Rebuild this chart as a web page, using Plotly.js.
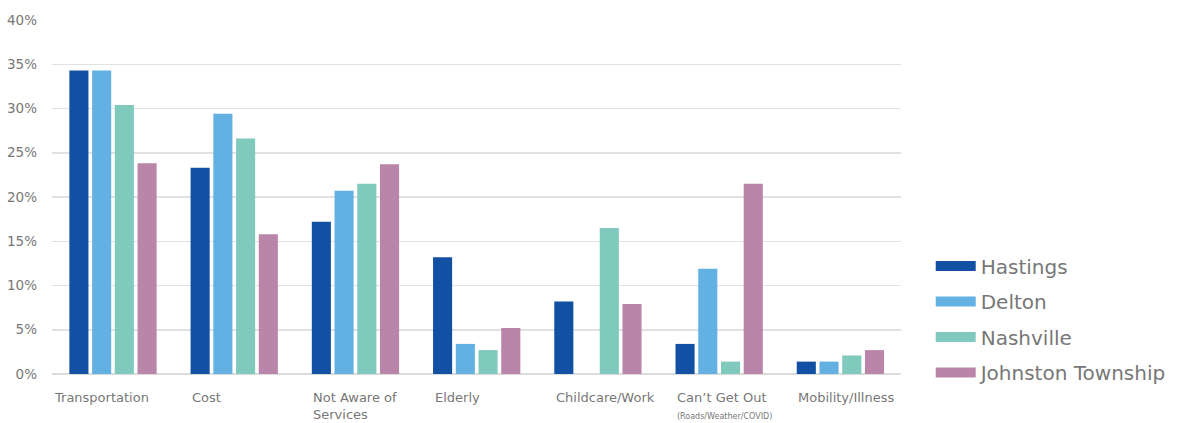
<!DOCTYPE html>
<html>
<head>
<meta charset="utf-8">
<script src="https://cdn.plot.ly/plotly-3.0.1.min.js"></script>
<style>html,body{margin:0;padding:0;background:#fff}#chart{width:1191px;height:423px}</style>
</head>
<body>
<div id="chart"></div>
<script>
const categories = ["Transportation", "Cost", "Not Aware of Services", "Elderly", "Childcare/Work", "Can\u2019t Get Out", "Mobility/Illness"];
const categoryLabels = ["Transportation", "Cost", "Not Aware of<br>Services", "Elderly", "Childcare/Work", "Can\u2019t Get Out<br><span style='font-size:8px'>(Roads/Weather/COVID)</span>", "Mobility/Illness"];
const seriesNames = ["Hastings", "Delton", "Nashville", "Johnston Township"];
const hastings = [34.3, 23.3, 17.2, 13.2, 8.2, 3.4, 1.4];
const delton = [34.3, 29.4, 20.7, 3.4, 0, 11.9, 1.4];
const nashville = [30.4, 26.6, 21.5, 2.7, 16.5, 1.4, 2.1];
const johnston = [23.8, 15.8, 23.7, 5.2, 7.9, 21.5, 2.7];
const yTickVals = [0, 5, 10, 15, 20, 25, 30, 35, 40];
const yTickText = ["0%", "5%", "10%", "15%", "20%", "25%", "30%", "35%", "40%"];

const colors = ["#1150a3", "#63b0e2", "#80c9bd", "#b985a8"];
const seriesValues = [hastings, delton, nashville, johnston];
const gray = "#777777";
const fontFam = "'DejaVu Sans', 'Open Sans', sans-serif";

const traces = [];
seriesValues.forEach((vals, i) => {
  traces.push({
    type: "bar", x: categories, y: vals, name: seriesNames[i],
    marker: {color: colors[i]}, showlegend: false, hoverinfo: "x+y+name"
  });
});
seriesValues.forEach((vals, i) => {
  traces.push({
    type: "scatter", mode: "lines", x: [null], y: [null], name: seriesNames[i],
    line: {color: colors[i], width: 11}, legendgroup: "g" + i, showlegend: true, hoverinfo: "skip"
  });
});

const annotations = categories.map((c, i) => ({
  x: c, xref: "x", y: 0, yref: "paper", yanchor: "top", xanchor: "left",
  xshift: i === 0 ? -61 : -44, yshift: -14, align: "left",
  text: categoryLabels[i], showarrow: false,
  font: {family: fontFam, size: 13, color: gray}
}));

const layout = {
  width: 1191, height: 423,
  margin: {l: 52, r: 290, t: 20, b: 49},
  paper_bgcolor: "#fff", plot_bgcolor: "#fff",
  barmode: "group", bargap: 0.25, bargroupgap: 0.16,
  font: {family: fontFam, color: gray},
  xaxis: {type: "category", showticklabels: false, showgrid: false, zeroline: false, showline: false, ticks: "", fixedrange: true},
  yaxis: {
    range: [0, 40], tickvals: yTickVals, ticktext: yTickText,
    showgrid: true, gridcolor: "#e1e1e1", gridwidth: 1.5, zeroline: true, zerolinecolor: "#dcdcdc", zerolinewidth: 2,
    showline: false, ticks: "", ticklabelstandoff: 14,
    tickfont: {family: fontFam, size: 13.5, color: gray}, fixedrange: true
  },
  legend: {
    x: 1.035, xanchor: "left", y: 0.36, yanchor: "top",
    font: {family: fontFam, size: 20, color: gray},
    itemwidth: 40,
    tracegroupgap: 6.5, bgcolor: "rgba(0,0,0,0)"
  },
  annotations: annotations
};

Plotly.newPlot("chart", traces, layout, {displayModeBar: false, staticPlot: true});
</script>
</body>
</html>
